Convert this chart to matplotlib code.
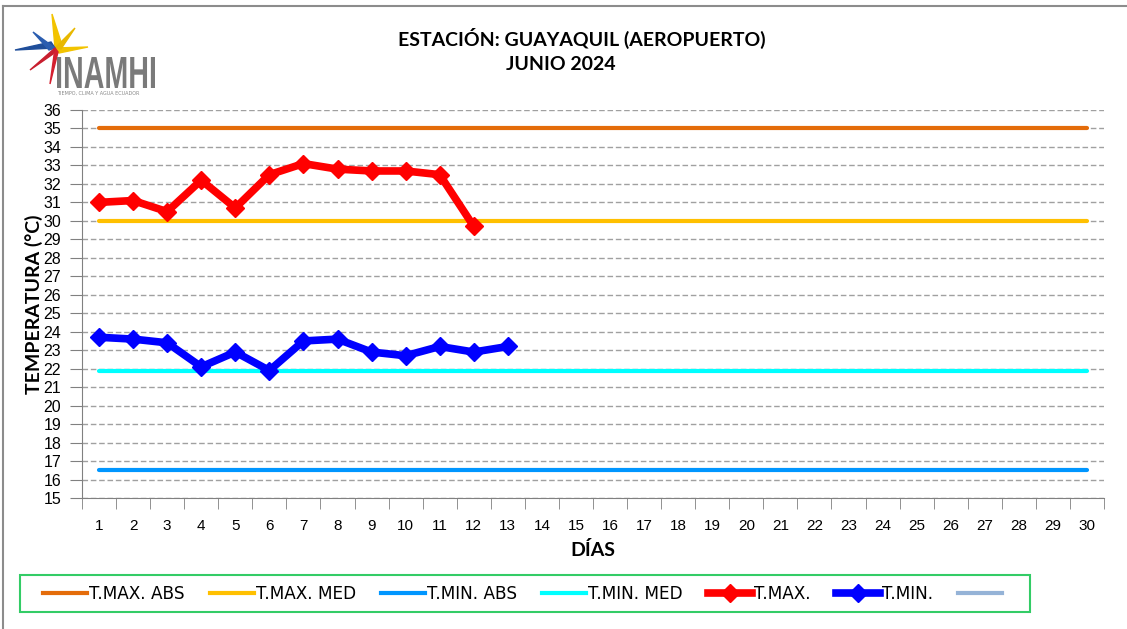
import matplotlib
matplotlib.use("Agg")
import matplotlib.pyplot as plt
from matplotlib.lines import Line2D
from matplotlib.patches import Polygon, PathPatch, Rectangle
from matplotlib.textpath import TextPath
from matplotlib.font_manager import FontProperties
from matplotlib.transforms import Affine2D, IdentityTransform

# datos
dias = list(range(1, 31))
tmax_dias = list(range(1, 13))
tmax = [31.0, 31.1, 30.5, 32.2, 30.7, 32.5, 33.1, 32.8, 32.7, 32.7, 32.5, 29.7]
tmin_dias = list(range(1, 14))
tmin = [23.7, 23.6, 23.4, 22.1, 22.9, 21.9, 23.5, 23.6, 22.9, 22.7, 23.2, 22.9, 23.2]
tmax_abs = 35.0
tmax_med = 30.0
tmin_abs = 16.5
tmin_med = 21.9

titulo = "ESTACIÓN: GUAYAQUIL (AEROPUERTO)"
subtitulo = "JUNIO 2024"
etiquetas = ["T.MAX. ABS", "T.MAX. MED", "T.MIN. ABS", "T.MIN. MED", "T.MAX.", "T.MIN.", ""]

W, H = 1127, 629
fig = plt.figure(figsize=(W / 100, H / 100), dpi=100)
ax = fig.add_axes([82 / W, 1 - 498 / H, (1104 - 82) / W, (498 - 110) / H])

c_orange = "#E46C0A"
c_yellow = "#FFC000"
c_blue = "#0096FF"
c_cyan = "#00FFFF"

ax.plot(dias, [tmax_abs] * len(dias), color=c_orange, lw=3, solid_capstyle="round", zorder=3)
ax.plot(dias, [tmax_med] * len(dias), color=c_yellow, lw=3, solid_capstyle="round", zorder=3)
ax.plot(dias, [tmin_abs] * len(dias), color=c_blue, lw=3, solid_capstyle="round", zorder=3)
ax.plot(dias, [tmin_med] * len(dias), color=c_cyan, lw=3, solid_capstyle="round", zorder=3)
ax.plot(tmax_dias, tmax, color="#FF0000", lw=5.5, marker="D", ms=9, zorder=4)
ax.plot(tmin_dias, tmin, color="#0000FF", lw=5.5, marker="D", ms=9, zorder=4)

ax.set_xlim(0.5, 30.5)
ax.set_ylim(15, 36)
ax.set_yticks(range(15, 37))
ax.set_xticks(dias)
ax.set_xticks([d + 0.5 for d in range(0, 31)], minor=True)
ax.tick_params(axis="x", which="major", length=0, pad=15, labelsize=11)
ax.tick_params(axis="x", which="minor", length=8, color="#808080", direction="out")
ax.tick_params(axis="y", length=9, color="#808080", labelsize=11.5, pad=6)
ax.yaxis.grid(True, ls=(0, (4, 2)), color="#A0A0A0", lw=1)
ax.set_axisbelow(True)
for s in ["top", "right"]:
    ax.spines[s].set_visible(False)
for s in ["left", "bottom"]:
    ax.spines[s].set_color("#808080")
for t in ax.get_yticklabels() + ax.get_xticklabels():
    t.set_family("Liberation Sans")

ax.set_ylabel("TEMPERATURA (°C)", fontsize=14, fontweight="bold", labelpad=0, family="Lato")
ax.set_xlabel("DÍAS", fontsize=14, fontweight="bold", labelpad=6, family="Lato")

fig.text(582 / W, 1 - 38 / H, titulo, ha="center", va="center", fontsize=14,
         fontweight="bold", family="Lato")
fig.text(561 / W, 1 - 65 / H, subtitulo, ha="center", va="center", fontsize=14,
         fontweight="bold", family="Lato")

# logo aproximado
def px(pts):
    return [(x / W, 1 - y / H) for x, y in pts]

cx, cy = 55, 48
estrella = [
    ([(cx, cy), (52, 14), (cx + 6, cy - 6)], "#F2C300"),
    ([(cx, cy), (88, 47), (cx + 4, cy + 5)], "#F2C300"),
    ([(cx, cy), (75, 28), (cx + 6, cy + 1)], "#E8B800"),
    ([(cx, cy), (15, 50), (cx - 4, cy - 6)], "#1F4E9A"),
    ([(cx, cy), (33, 32), (cx - 6, cy + 2)], "#2A5DB0"),
    ([(cx, cy), (50, 84), (cx + 3, cy + 4)], "#D42030"),
    ([(cx, cy), (30, 70), (cx - 2, cy + 6)], "#C81E2E"),
]
for pts, col in estrella:
    fig.patches.append(Polygon(px(pts), closed=True, color=col, transform=fig.transFigure))

tp = TextPath((0, 0), "INAMHI", size=30,
              prop=FontProperties(family="Liberation Sans", weight="bold"))
bb = tp.get_extents()
sx = 98 / bb.width
sy = 31 / bb.height
tr = Affine2D().translate(-bb.x0, -bb.y0).scale(sx, sy).translate(57, H - 88)
fig.patches.append(PathPatch(tp, color="#7A7A7A", lw=0, transform=tr + IdentityTransform()))
fig.text(57 / W, 1 - 93 / H, "TIEMPO, CLIMA Y AGUA ECUADOR", ha="left", va="center",
         fontsize=3.5, color="#888888")

# borde del grafico
fig.add_artist(Line2D([3 / W, 3 / W], [0, 1 - 6 / H], color="#8C8C8C", lw=1.5,
                      transform=fig.transFigure))
fig.add_artist(Line2D([3 / W, 1], [1 - 6 / H, 1 - 6 / H], color="#8C8C8C", lw=1.5,
                      transform=fig.transFigure))

# leyenda
fig.patches.append(Rectangle((20 / W, 1 - 612 / H), 1010 / W, 37 / H, fill=False,
                             edgecolor="#33CC66", lw=1.5, transform=fig.transFigure))
handles = [
    Line2D([], [], color=c_orange, lw=3),
    Line2D([], [], color=c_yellow, lw=3),
    Line2D([], [], color=c_blue, lw=3),
    Line2D([], [], color=c_cyan, lw=3),
    Line2D([], [], color="#FF0000", lw=5.5, marker="D", ms=9),
    Line2D([], [], color="#0000FF", lw=5.5, marker="D", ms=9),
    Line2D([], [], color="#95B3D7", lw=3),
]
leg = fig.legend(handles, etiquetas, loc="center left",
                 bbox_to_anchor=(43 / W, 1 - 594 / H),
                 ncol=7, frameon=False, borderpad=0, borderaxespad=0,
                 handlelength=2.6, handletextpad=0.1, columnspacing=1.5,
                 prop={"family": "DejaVu Sans", "size": 12.2})

fig.savefig("out.png", dpi=100)
